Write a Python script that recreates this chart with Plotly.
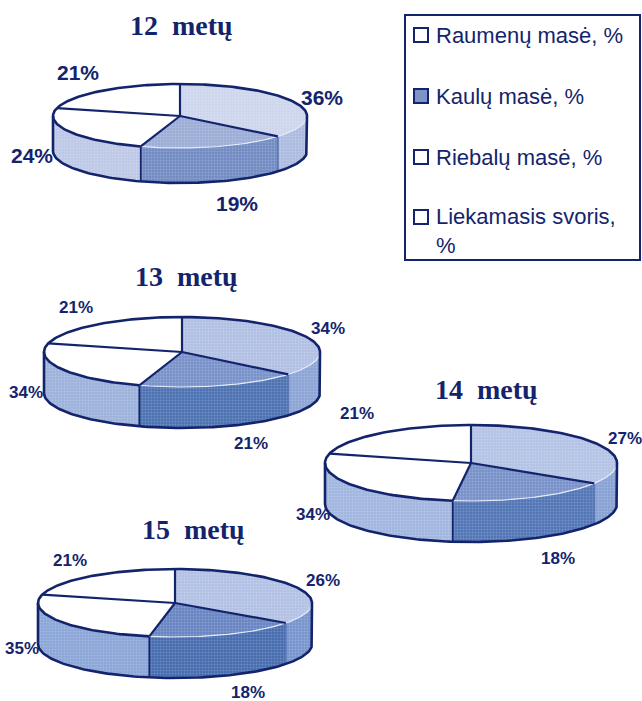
import numpy as np
import plotly.graph_objects as go

NAVY = "#14246c"
CATEGORIES = ["Raumenų masė, %", "Kaulų masė, %", "Riebalų masė, %", "Liekamasis svoris,<br>%"]
AGES = ["12 metų", "13 metų", "14 metų", "15 metų"]

# printed labels, in slice order
LABELS_12 = [36, 19, 24, 21]
LABELS_13 = [34, 21, 34, 21]
LABELS_14 = [27, 18, 34, 21]
LABELS_15 = [26, 18, 35, 21]
# slice sizes as they are actually drawn in the print
DRAWN_12 = [36, 19, 24, 21]
DRAWN_13 = [36, 19, 24, 21]
DRAWN_14 = [34, 18, 27, 21]
DRAWN_15 = [35, 18, 26, 21]

# layout of each pie: centre x/y, radii, depth, title pos, label font, label positions
PIES = [
    dict(age=AGES[0], lab=LABELS_12, drawn=DRAWN_12, c=(180, 116), r=(127, 32), d=35, t=(181, 25), fs=21,
         pos=[(322, 97), (237, 203), (32, 155), (78, 72)],
         top=("#ccd5ed", "#9aabd5"), wall=("#abbadf", "#708ac2", "#bcc8e6")),
    dict(age=AGES[1], lab=LABELS_13, drawn=DRAWN_13, c=(182, 352), r=(138, 35), d=41, t=(186, 276), fs=17,
         pos=[(328, 328), (251, 443), (26, 392), (76, 307)],
         top=("#b0bfe3", "#7790c9"), wall=("#8aa3d4", "#4a70b1", "#9bb1db")),
    dict(age=AGES[2], lab=LABELS_14, drawn=DRAWN_14, c=(471, 463), r=(146, 38), d=41, t=(486, 389), fs=17,
         pos=[(625, 438), (558, 558), (313, 514), (357, 413)],
         top=("#b3c2e5", "#7790c9"), wall=("#86a0d3", "#5074b5", "#a0b5de")),
    dict(age=AGES[3], lab=LABELS_15, drawn=DRAWN_15, c=(175, 603), r=(137, 34), d=41, t=(193, 529), fs=17,
         pos=[(323, 580), (248, 692), (22, 648), (70, 560)],
         top=("#b1c0e4", "#6784c1"), wall=("#7593cc", "#456bae", "#8aa4d6")),
]

LEGEND_Y = [35, 96, 157, 217]
LEGEND_FILL = ["#ffffff", "#7e93c8", "#ffffff", "#ffffff"]

fig = go.Figure()


def arc(c, r, a0, a1, dy=0, n=80):
    t = np.radians(np.linspace(a0, a1, n))
    return c[0] + r[0] * np.sin(t), c[1] - r[1] * np.cos(t) + dy


def poly(x, y, fill, line=None, width=0):
    fig.add_trace(go.Scatter(
        x=list(x), y=list(y), mode="lines", fill="toself", fillcolor=fill,
        fillpattern=dict(shape=".", size=3, solidity=0.35, fgcolor="rgba(255,255,255,0.45)", bgcolor=fill),
        line=dict(color=line or fill, width=width), showlegend=False, hoverinfo="skip"))


def plain(x, y, fill):
    fig.add_trace(go.Scatter(x=list(x), y=list(y), mode="lines", fill="toself", fillcolor=fill,
                             line=dict(color=fill, width=0), showlegend=False, hoverinfo="skip"))


def stroke(x, y, color=NAVY, width=2.6):
    fig.add_trace(go.Scatter(x=list(x), y=list(y), mode="lines", line=dict(color=color, width=width),
                             showlegend=False, hoverinfo="skip"))


annotations = []
for p in PIES:
    c, r, d = p["c"], p["r"], p["d"]
    cum = np.cumsum([0] + p["drawn"]) / sum(p["drawn"]) * 360
    a1, a2, a3 = cum[1], cum[2], cum[3]
    # side walls (visible part runs from 90 to 270 degrees clockwise from the top)
    for a, b, col in [(90, a1, p["wall"][0]), (a1, a2, p["wall"][1]), (a2, 270, p["wall"][2])]:
        x0, y0 = arc(c, r, a, b)
        x1, y1 = arc(c, r, b, a, dy=d)
        poly(np.r_[x0, x1, x0[0]], np.r_[y0, y1, y0[0]], col)
    # top slices
    for a, b, col in [(0, a1, p["top"][0]), (a1, a2, p["top"][1]), (a2, a3, "#ffffff"), (a3, 360, "#ffffff")]:
        x0, y0 = arc(c, r, a, b)
        fx = np.r_[c[0], x0, c[0]]
        fy = np.r_[c[1], y0, c[1]]
        if col == "#ffffff":
            plain(fx, fy, col)
        else:
            poly(fx, fy, col)
    # wall dividers
    for a, col in [(a1, "#5d78b8"), (a2, NAVY)]:
        x0, y0 = arc(c, r, a, a, n=2)
        stroke([x0[0], x0[0]], [y0[0], y0[0] + d], col, 1.8)
    # front edge of the coloured slices is a pale seam
    x0, y0 = arc(c, r, 90, a2)
    stroke(x0, y0, "#e4eaf7", 1.2)
    # outer outline
    x0, y0 = arc(c, r, a2, 450, n=200)
    stroke(x0, y0)
    x1, y1 = arc(c, r, 90, 270, dy=d, n=120)
    stroke(np.r_[x1[0], x1, x1[-1]], np.r_[c[1], y1, c[1]])
    # spokes
    for a in [0, a1, a2, a3]:
        xs, ys = arc(c, r, a, a, n=2)
        stroke([c[0], xs[0]], [c[1], ys[0]], NAVY, 2.2)
    annotations.append(dict(x=p["t"][0], y=p["t"][1], text=f"<b>{p['age'].replace(' ', '&nbsp;&nbsp;')}</b>",
                            showarrow=False, font=dict(family="Liberation Serif", size=28, color=NAVY)))
    for val, (lx, ly) in zip(p["lab"], p["pos"]):
        annotations.append(dict(x=lx, y=ly, text=f"<b>{val}%</b>", showarrow=False,
                                font=dict(family="Liberation Sans", size=p["fs"], color=NAVY)))

# legend
fig.add_trace(go.Scatter(
    x=[421] * 4, y=LEGEND_Y, mode="markers",
    marker=dict(symbol="square", size=14, color=LEGEND_FILL, line=dict(color=NAVY, width=2)),
    showlegend=False, hoverinfo="skip"))
for name, ly in zip(CATEGORIES, LEGEND_Y):
    annotations.append(dict(x=434, y=ly if "<br>" not in name else ly + 14, text=name, showarrow=False,
                            xanchor="left", align="left",
                            font=dict(family="Liberation Sans", size=22, color=NAVY)))

fig.update_layout(
    width=642, height=701, margin=dict(l=0, r=0, t=0, b=0),
    paper_bgcolor="white", plot_bgcolor="white", annotations=annotations,
    shapes=[dict(type="rect", x0=405, x1=640, y0=15, y1=260, line=dict(color=NAVY, width=2))],
    xaxis=dict(range=[0, 642], visible=False, fixedrange=True),
    yaxis=dict(range=[701, 0], visible=False, fixedrange=True),
)
fig.write_html("out.html", config=dict(displayModeBar=False),
               post_script="document.body.style.margin='0';document.body.style.overflow='hidden';")
